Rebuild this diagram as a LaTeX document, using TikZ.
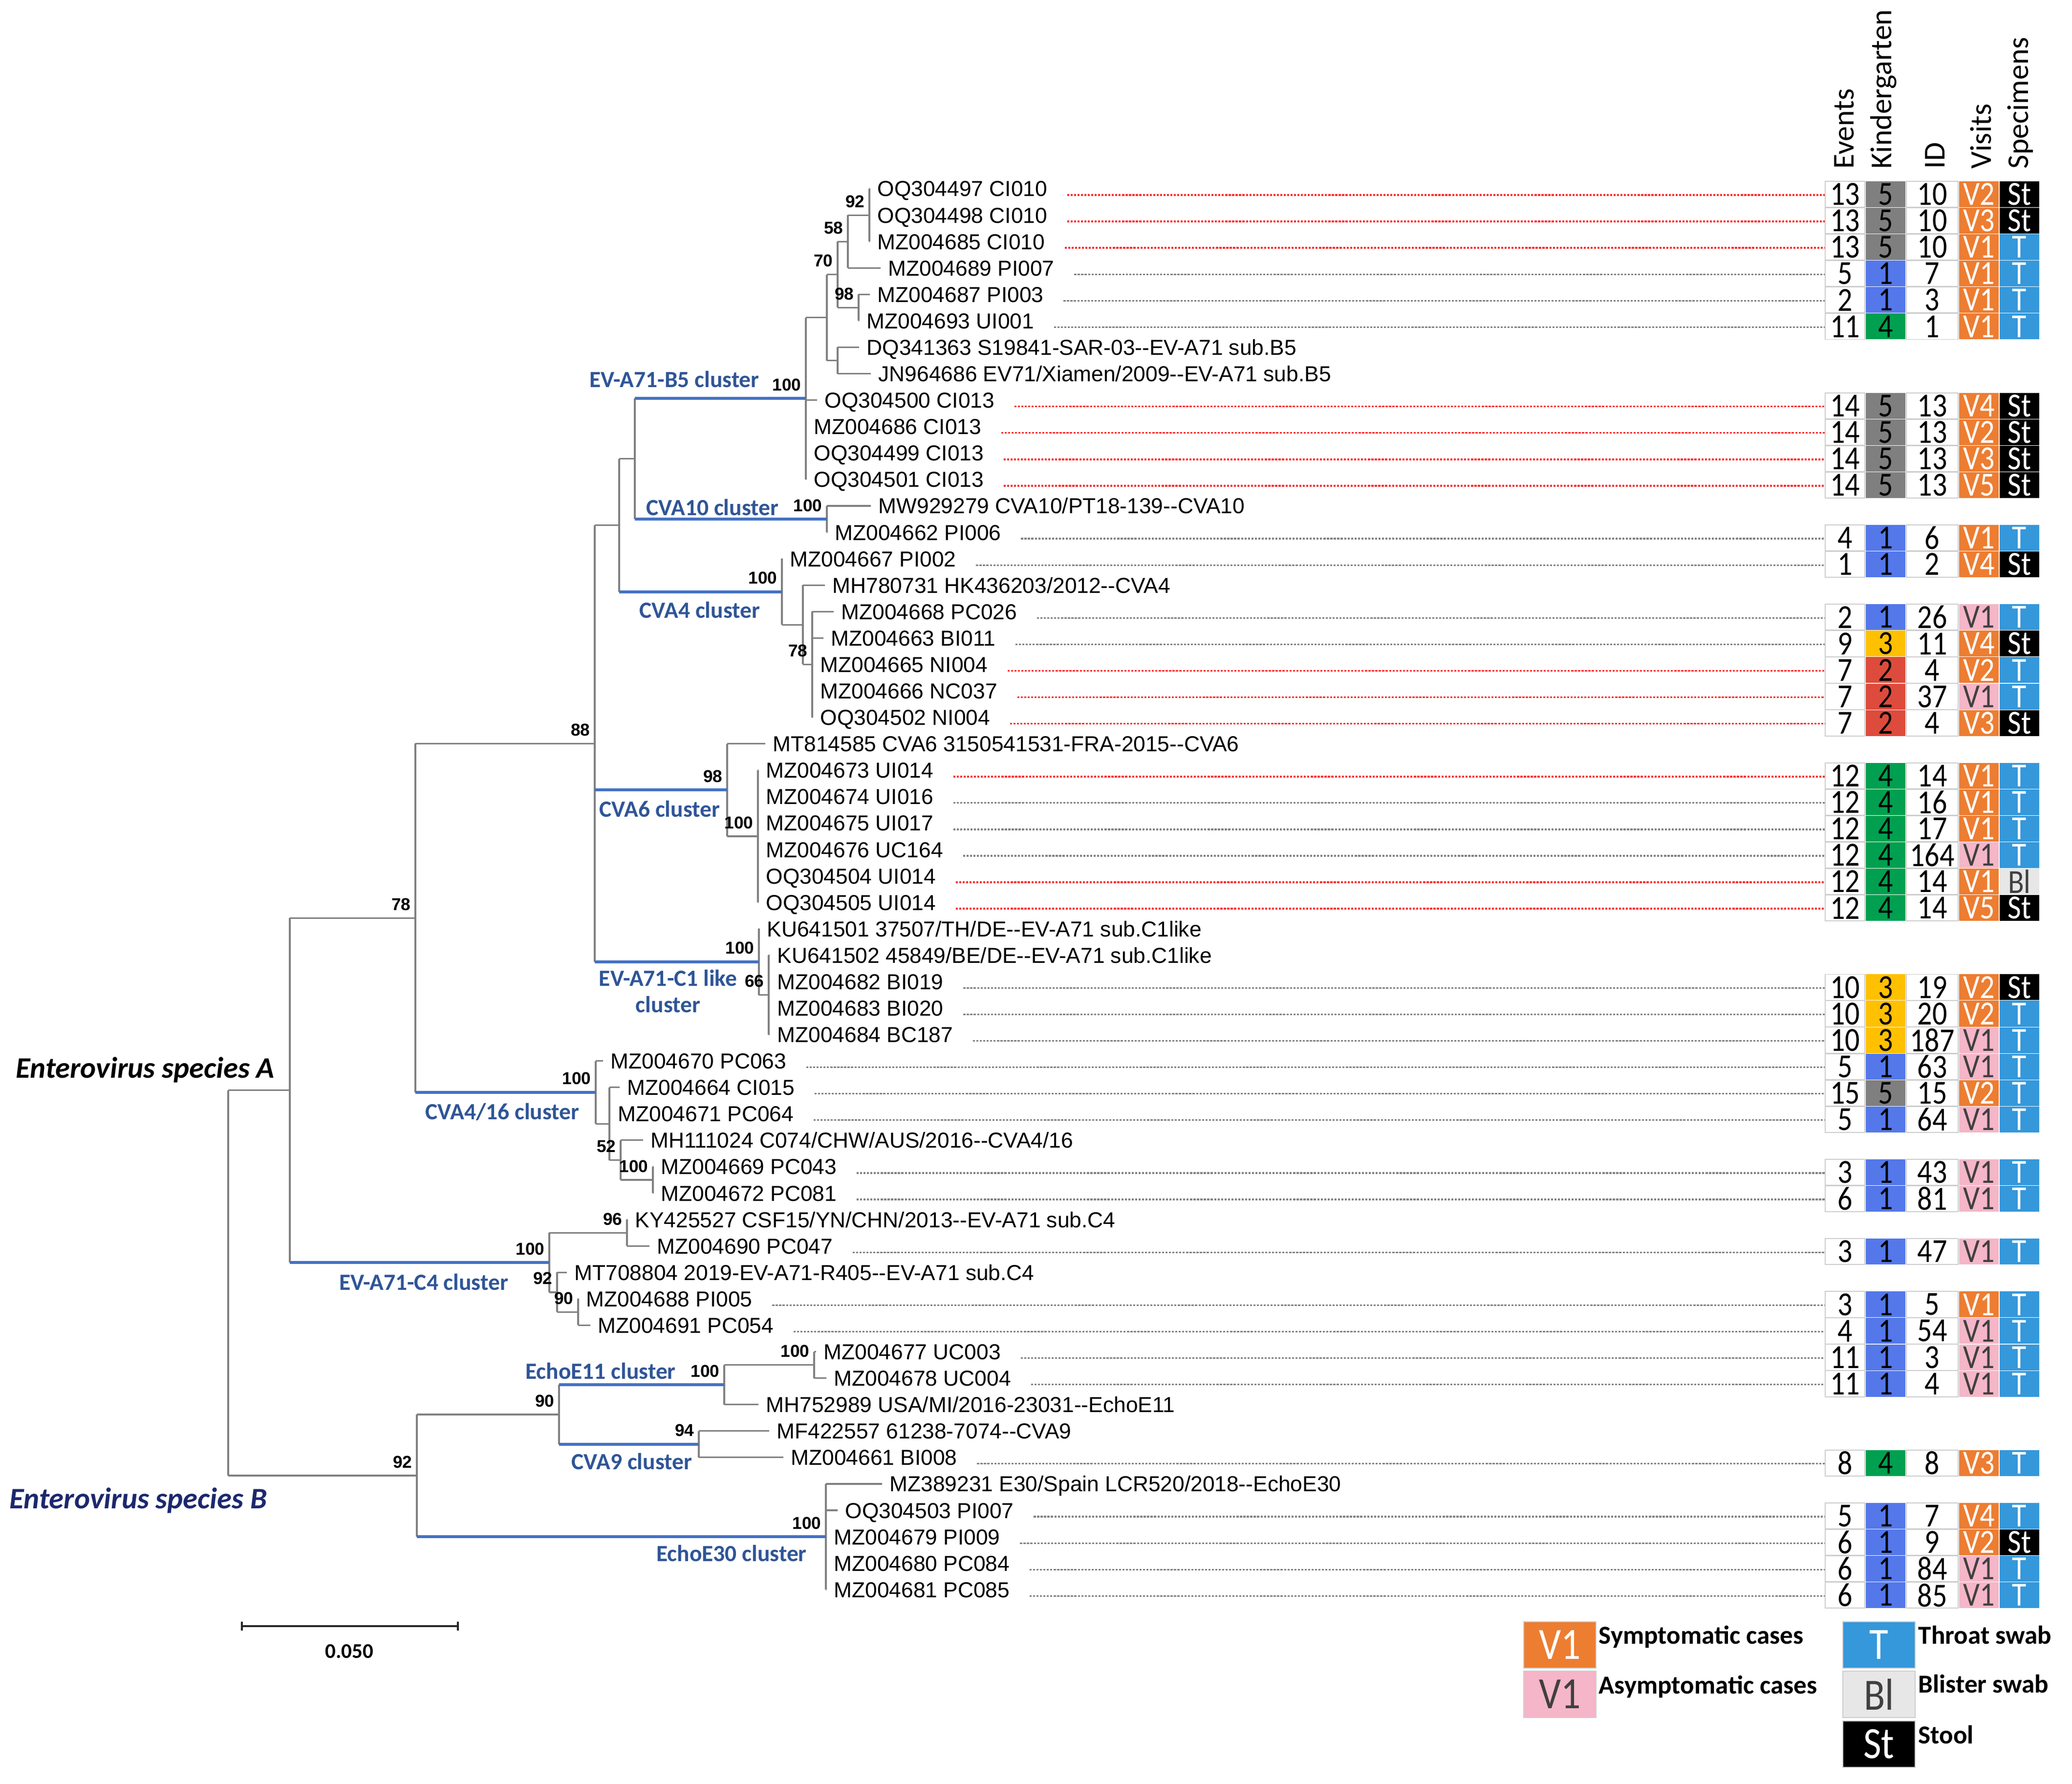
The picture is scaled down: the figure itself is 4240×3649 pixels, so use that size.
\documentclass[tikz,border=0pt]{standalone}
\usepackage{fontspec}
\setmainfont{Liberation Sans}
\newfontfamily\calf{Carlito}
\newfontfamily\tabf{Carlito}[FakeStretch=0.87]
\usetikzlibrary{calc}
\definecolor{treegray}{RGB}{128,128,128}
\definecolor{brblue}{RGB}{68,114,196}
\definecolor{cltext}{RGB}{47,85,151}
\definecolor{spnavy}{RGB}{28,40,110}
\definecolor{kgray}{RGB}{127,127,127}
\definecolor{kblue}{RGB}{84,120,234}
\definecolor{kgreen}{RGB}{0,160,80}
\definecolor{kyellow}{RGB}{255,192,0}
\definecolor{kred}{RGB}{221,75,60}
\definecolor{vorange}{RGB}{237,125,49}
\definecolor{vpink}{RGB}{244,182,200}
\definecolor{sblue}{RGB}{52,152,219}
\definecolor{blgray}{RGB}{231,231,231}
\definecolor{darktxt}{RGB}{64,64,64}
\definecolor{cellline}{RGB}{205,205,205}
\definecolor{dotred}{RGB}{255,40,40}
\definecolor{dotgray}{RGB}{128,128,128}

\newcommand\lf[3]{\coordinate (t#1) at (#2,{386+(#1-1)*54.08});
  \node[leaf] (l#1) at ($(t#1)+(15,16)$) {#3};}
\newcommand\bsl[2]{\node[bs] (b#1) at ($(#1)+(-9,-16)$) {#2};}
\newcommand\trow[9]{%
  \pgfmathsetmacro\rowy{386+(#1-1)*54.08+11.5}%
  \node[cw] (ev#1) at (3775.5,\rowy) {#2};
  \node[cell,#3] (kd#1) at (3858.5,\rowy) {#4};
  \node[cw,minimum width=1.065cm] (id#1) at (3954,\rowy) {#5};
  \node[cell,#6] (vs#1) at (4049.5,\rowy) {#7};
  \node[cell,#8] (sp#1) at (4132.5,\rowy) {#9};
  \coordinate (r#1) at (3734,\rowy+1.5);}
\newcommand\dl[2]{\coordinate (s#1) at ($(l#1.east)+(40,0)$);
  \draw[#2] (s#1 |- r#1) -- (r#1);}

\begin{document}
\begin{tikzpicture}[x=0.01cm,y=-0.01cm,
  br/.style={draw=treegray, line width=0.9pt},
  bb/.style={draw=brblue, line width=1.7pt},
  leaf/.style={anchor=base west, inner sep=0pt, font=\fontsize{12.6}{14}\selectfont},
  bs/.style={anchor=base east, inner sep=0pt, font=\fontsize{10}{12}\selectfont\bfseries},
  cl/.style={inner sep=0pt, text=cltext, align=center, font=\calf\fontsize{13.5}{15.4}\selectfont\bfseries},
  spc/.style={inner sep=0pt, font=\calf\fontsize{17.3}{20}\selectfont\bfseries\itshape},
  hdr/.style={rotate=90, anchor=base west, inner sep=0pt, font=\calf\fontsize{17.6}{20}\selectfont},
  cell/.style={minimum width=0.815cm, minimum height=0.53cm, inner sep=0pt, font=\tabf\fontsize{19.6}{20}\selectfont},
  cw/.style={cell, fill=white, draw=cellline, line width=0.5pt},
  kg/.style={fill=kgray}, kb/.style={fill=kblue}, kgr/.style={fill=kgreen},
  ky/.style={fill=kyellow}, kr/.style={fill=kred},
  vo/.style={fill=vorange, text=white}, vp/.style={fill=vpink, text=darktxt},
  st/.style={fill=black, text=white}, sT/.style={fill=sblue, text=white},
  sB/.style={fill=blgray, text=darktxt},
  reddot/.style={draw=dotred, line width=1pt, dash pattern=on 1.2pt off 0.8pt},
  graydot/.style={draw=dotgray, line width=0.9pt, dash pattern=on 1.2pt off 0.8pt},
  lbox/.style={minimum width=1.48cm, minimum height=0.95cm, inner sep=0pt, draw=cellline, line width=0.6pt, font=\tabf\fontsize{26}{28}\selectfont},
  lgt/.style={anchor=base west, inner sep=0pt, font=\calf\bfseries\fontsize{15.1}{17}\selectfont}
]
\useasboundingbox (0,0) rectangle (4240,3649);

% ---------- leaves ----------
\lf{1}{1780}{OQ304497 CI010}
\lf{2}{1780}{OQ304498 CI010}
\lf{3}{1780}{MZ004685 CI010}
\lf{4}{1802}{MZ004689 PI007}
\lf{5}{1780}{MZ004687 PI003}
\lf{6}{1758}{MZ004693 UI001}
\lf{7}{1758}{DQ341363 S19841-SAR-03-{}-EV-A71 sub.B5}
\lf{8}{1782}{JN964686 EV71/Xiamen/2009-{}-EV-A71 sub.B5}
\lf{9}{1672}{OQ304500 CI013}
\lf{10}{1650}{MZ004686 CI013}
\lf{11}{1650}{OQ304499 CI013}
\lf{12}{1650}{OQ304501 CI013}
\lf{13}{1782}{MW929279 CVA10/PT18-139-{}-CVA10}
\lf{14}{1693}{MZ004662 PI006}
\lf{15}{1601}{MZ004667 PI002}
\lf{16}{1688}{MH780731 HK436203/2012-{}-CVA4}
\lf{17}{1706}{MZ004668 PC026}
\lf{18}{1685}{MZ004663 BI011}
\lf{19}{1663}{MZ004665 NI004}
\lf{20}{1663}{MZ004666 NC037}
\lf{21}{1663}{OQ304502 NI004}
\lf{22}{1566}{MT814585 CVA6 3150541531-FRA-2015-{}-CVA6}
\lf{23}{1552}{MZ004673 UI014}
\lf{24}{1552}{MZ004674 UI016}
\lf{25}{1552}{MZ004675 UI017}
\lf{26}{1552}{MZ004676 UC164}
\lf{27}{1552}{OQ304504 UI014}
\lf{28}{1552}{OQ304505 UI014}
\lf{29}{1554}{KU641501 37507/TH/DE-{}-EV-A71 sub.C1like}
\lf{30}{1575}{KU641502 45849/BE/DE-{}-EV-A71 sub.C1like}
\lf{31}{1575}{MZ004682 BI019}
\lf{32}{1575}{MZ004683 BI020}
\lf{33}{1575}{MZ004684 BC187}
\lf{34}{1234}{MZ004670 PC063}
\lf{35}{1268}{MZ004664 CI015}
\lf{36}{1249}{MZ004671 PC064}
\lf{37}{1316}{MH111024 C074/CHW/AUS/2016-{}-CVA4/16}
\lf{38}{1337}{MZ004669 PC043}
\lf{39}{1337}{MZ004672 PC081}
\lf{40}{1284}{KY425527 CSF15/YN/CHN/2013-{}-EV-A71 sub.C4}
\lf{41}{1329}{MZ004690 PC047}
\lf{42}{1160}{MT708804 2019-EV-A71-R405-{}-EV-A71 sub.C4}
\lf{43}{1184}{MZ004688 PI005}
\lf{44}{1208}{MZ004691 PC054}
\lf{45}{1670}{MZ004677 UC003}
\lf{46}{1691}{MZ004678 UC004}
\lf{47}{1552}{MH752989 USA/MI/2016-23031-{}-EchoE11}
\lf{48}{1574}{MF422557 61238-7074-{}-CVA9}
\lf{49}{1603}{MZ004661 BI008}
\lf{50}{1805}{MZ389231 E30/Spain LCR520/2018-{}-EchoE30}
\lf{51}{1714}{OQ304503 PI007}
\lf{52}{1691}{MZ004679 PI009}
\lf{53}{1691}{MZ004680 PC084}
\lf{54}{1691}{MZ004681 PC085}

% ---------- internal nodes ----------
\coordinate (a92) at (1779,440.1);
\coordinate (a58) at (1735,494.2);
\coordinate (a98) at (1757,629.4);
\coordinate (a70) at (1714,561.8);
\coordinate (aDJ) at (1714,737.6);
\coordinate (aB5a) at (1692,649.7);
\coordinate (aB5) at (1649,815.3);
\coordinate (aC10) at (1692,1062);
\coordinate (aX2) at (1299,938.7);
\coordinate (a78b) at (1662,1359.4);
\coordinate (aC4b) at (1643,1278.3);
\coordinate (aCVA4) at (1600,1210.7);
\coordinate (aX1) at (1267,1074.7);
\coordinate (a100c) at (1551,1711);
\coordinate (aCVA6) at (1488,1616.4);
\coordinate (a66) at (1573,2035.5);
\coordinate (aC1) at (1553,1967.9);
\coordinate (a88) at (1217,1521.3);
\coordinate (a100d) at (1336,2414);
\coordinate (a52) at (1270,2373.5);
\coordinate (a1247) at (1247,2299.1);
\coordinate (aCVA416) at (1219,2234.9);
\coordinate (a78) at (850,1878.1);
\coordinate (a96) at (1283,2522.2);
\coordinate (a90c) at (1183,2684.4);
\coordinate (a92c) at (1140,2643.9);
\coordinate (aC4) at (1124,2583);
\coordinate (aA) at (593,2230.6);
\coordinate (a100e) at (1666,2792.6);
\coordinate (aE11) at (1482,2833.1);
\coordinate (aCVA9) at (1430,2954.8);
\coordinate (a90b) at (1144,2894);
\coordinate (aE30) at (1690,3144);
\coordinate (aB) at (853,3019);
\coordinate (root) at (467,2624.8);

% ---------- gray branches ----------
\draw[br] (a92 |- t1) -- (a92 |- t3);
\foreach \c in {t1,t2,t3} {\draw[br] (a92 |- \c) -- (\c);}
\draw[br] (a58 |- a92) -- (a58 |- t4);
\foreach \c in {a92,t4} {\draw[br] (a58 |- \c) -- (\c);}
\draw[br] (a98 |- t5) -- (a98 |- t6);
\foreach \c in {t5,t6} {\draw[br] (a98 |- \c) -- (\c);}
\draw[br] (a70 |- a58) -- (a70 |- a98);
\foreach \c in {a58,a98} {\draw[br] (a70 |- \c) -- (\c);}
\draw[br] (aDJ |- t7) -- (aDJ |- t8);
\foreach \c in {t7,t8} {\draw[br] (aDJ |- \c) -- (\c);}
\draw[br] (aB5a |- a70) -- (aB5a |- aDJ);
\foreach \c in {a70,aDJ} {\draw[br] (aB5a |- \c) -- (\c);}
\draw[br] (aB5 |- aB5a) -- (aB5 |- t12);
\foreach \c in {aB5a,t9,t10,t11,t12} {\draw[br] (aB5 |- \c) -- (\c);}
\draw[br] (aC10 |- t13) -- (aC10 |- t14);
\foreach \c in {t13,t14} {\draw[br] (aC10 |- \c) -- (\c);}
\draw[br] (aX2 |- aB5) -- (aX2 |- aC10);
\draw[br] (a78b |- t17) -- (a78b |- t21);
\foreach \c in {t17,t18,t19,t20,t21} {\draw[br] (a78b |- \c) -- (\c);}
\draw[br] (aC4b |- t16) -- (aC4b |- a78b);
\foreach \c in {t16,a78b} {\draw[br] (aC4b |- \c) -- (\c);}
\draw[br] (aCVA4 |- t15) -- (aCVA4 |- aC4b);
\foreach \c in {t15,aC4b} {\draw[br] (aCVA4 |- \c) -- (\c);}
\draw[br] (aX1 |- aX2) -- (aX1 |- aCVA4);
\draw[br] (aX1 |- aX2) -- (aX2);
\draw[br] (a100c |- t23) -- (a100c |- t28);
\foreach \c in {t23,t24,t25,t26,t27,t28} {\draw[br] (a100c |- \c) -- (\c);}
\draw[br] (aCVA6 |- t22) -- (aCVA6 |- a100c);
\foreach \c in {t22,a100c} {\draw[br] (aCVA6 |- \c) -- (\c);}
\draw[br] (a66 |- t30) -- (a66 |- t33);
\foreach \c in {t30,t31,t32,t33} {\draw[br] (a66 |- \c) -- (\c);}
\draw[br] (aC1 |- t29) -- (aC1 |- a66);
\foreach \c in {t29,a66} {\draw[br] (aC1 |- \c) -- (\c);}
\draw[br] (a88 |- aX1) -- (a88 |- aC1);
\draw[br] (a88 |- aX1) -- (aX1);
\draw[br] (a100d |- t38) -- (a100d |- t39);
\foreach \c in {t38,t39} {\draw[br] (a100d |- \c) -- (\c);}
\draw[br] (a52 |- t37) -- (a52 |- a100d);
\foreach \c in {t37,a100d} {\draw[br] (a52 |- \c) -- (\c);}
\draw[br] (a1247 |- t35) -- (a1247 |- a52);
\foreach \c in {t35,t36,a52} {\draw[br] (a1247 |- \c) -- (\c);}
\draw[br] (aCVA416 |- t34) -- (aCVA416 |- a1247);
\foreach \c in {t34,a1247} {\draw[br] (aCVA416 |- \c) -- (\c);}
\draw[br] (a78 |- a88) -- (a78 |- aCVA416);
\draw[br] (a78 |- a88) -- (a88);
\draw[br] (a96 |- t40) -- (a96 |- t41);
\foreach \c in {t40,t41} {\draw[br] (a96 |- \c) -- (\c);}
\draw[br] (a90c |- t43) -- (a90c |- t44);
\foreach \c in {t43,t44} {\draw[br] (a90c |- \c) -- (\c);}
\draw[br] (a92c |- t42) -- (a92c |- a90c);
\foreach \c in {t42,a90c} {\draw[br] (a92c |- \c) -- (\c);}
\draw[br] (aC4 |- a96) -- (aC4 |- a92c);
\foreach \c in {a96,a92c} {\draw[br] (aC4 |- \c) -- (\c);}
\draw[br] (aA |- a78) -- (aA |- aC4);
\draw[br] (aA |- a78) -- (a78);
\draw[br] (a100e |- t45) -- (a100e |- t46);
\foreach \c in {t45,t46} {\draw[br] (a100e |- \c) -- (\c);}
\draw[br] (aE11 |- a100e) -- (aE11 |- t47);
\foreach \c in {a100e,t47} {\draw[br] (aE11 |- \c) -- (\c);}
\draw[br] (aCVA9 |- t48) -- (aCVA9 |- t49);
\foreach \c in {t48,t49} {\draw[br] (aCVA9 |- \c) -- (\c);}
\draw[br] (a90b |- aE11) -- (a90b |- aCVA9);
\draw[br] (aE30 |- t50) -- (aE30 |- t54);
\foreach \c in {t50,t51,t52,t53,t54} {\draw[br] (aE30 |- \c) -- (\c);}
\draw[br] (aB |- a90b) -- (aB |- aE30);
\draw[br] (aB |- a90b) -- (a90b);
\draw[br] (root |- aA) -- (root |- aB);
\foreach \c in {aA,aB} {\draw[br] (root |- \c) -- (\c);}

% ---------- blue cluster stems ----------
\draw[bb] (aX2 |- aB5) -- (aB5);
\draw[bb] (aX2 |- aC10) -- (aC10);
\draw[bb] (aX1 |- aCVA4) -- (aCVA4);
\draw[bb] (a88 |- aCVA6) -- (aCVA6);
\draw[bb] (a88 |- aC1) -- (aC1);
\draw[bb] (a78 |- aCVA416) -- (aCVA416);
\draw[bb] (aA |- aC4) -- (aC4);
\draw[bb] (a90b |- aE11) -- (aE11);
\draw[bb] (a90b |- aCVA9) -- (aCVA9);
\draw[bb] (aB |- aE30) -- (aE30);

% ---------- bootstrap values ----------
\bsl{a92}{92} \bsl{a58}{58} \bsl{a70}{70} \bsl{a98}{98}
\bsl{aB5}{100} \bsl{aC10}{100} \bsl{aCVA4}{100} \bsl{a78b}{78}
\bsl{a88}{88} \bsl{aCVA6}{98} \bsl{a100c}{100} \bsl{aC1}{100}
\bsl{a66}{66} \bsl{a78}{78} \bsl{aCVA416}{100} \bsl{a52}{52}
\bsl{a100d}{100} \bsl{a96}{96} \bsl{aC4}{100} \bsl{a92c}{92}
\bsl{a90c}{90} \bsl{a100e}{100} \bsl{aE11}{100} \bsl{a90b}{90}
\bsl{aCVA9}{94} \bsl{aB}{92} \bsl{aE30}{100}

% ---------- cluster labels ----------
\node[cl] (c1) at (1380,776) {EV-A71-B5 cluster};
\node[cl] (c2) at (1458,1038) {CVA10 cluster};
\node[cl] (c3) at (1432,1248) {CVA4 cluster};
\node[cl] (c4) at (1350,1655) {CVA6 cluster};
\node[cl] (c5) at (1367,2028) {EV-A71-C1 like\\cluster};
\node[cl] (c6) at (1028,2275) {CVA4/16 cluster};
\node[cl] (c7) at (867,2623) {EV-A71-C4 cluster};
\node[cl] (c8) at (1229,2805) {EchoE11 cluster};
\node[cl] (c9) at (1293,2990) {CVA9 cluster};
\node[cl] (c10) at (1497,3178) {EchoE30 cluster};

\node[spc] (spA) at (297,2189) {Enterovirus species A};
\node[spc, text=spnavy] (spB) at (283,3070) {Enterovirus species B};

% ---------- scale bar ----------
\coordinate (sb1) at (495,3327);
\coordinate (sb2) at (937,3327);
\draw[line width=1.1pt, draw=black!85] (sb1) -- (sb2);
\draw[line width=1.1pt, draw=black!85] ($(sb1)+(0,-9)$) -- ($(sb1)+(0,9)$);
\draw[line width=1.1pt, draw=black!85] ($(sb2)+(0,-9)$) -- ($(sb2)+(0,9)$);
\node[inner sep=0pt, font=\calf\bfseries\fontsize{12.2}{14}\selectfont] (sbl) at (715,3379) {0.050};

% ---------- headers ----------
\node[hdr] (h1) at (3793,346) {Events};
\node[hdr] (h2) at (3870,346) {Kindergarten};
\node[hdr] (h3) at (3979,346) {ID};
\node[hdr] (h4) at (4074,346) {Visits};
\node[hdr] (h5) at (4150,346) {Specimens};

% ---------- table ----------
\trow{1}{13}{kg}{5}{10}{vo}{V2}{st}{St}
\trow{2}{13}{kg}{5}{10}{vo}{V3}{st}{St}
\trow{3}{13}{kg}{5}{10}{vo}{V1}{sT}{T}
\trow{4}{5}{kb}{1}{7}{vo}{V1}{sT}{T}
\trow{5}{2}{kb}{1}{3}{vo}{V1}{sT}{T}
\trow{6}{11}{kgr}{4}{1}{vo}{V1}{sT}{T}
\trow{9}{14}{kg}{5}{13}{vo}{V4}{st}{St}
\trow{10}{14}{kg}{5}{13}{vo}{V2}{st}{St}
\trow{11}{14}{kg}{5}{13}{vo}{V3}{st}{St}
\trow{12}{14}{kg}{5}{13}{vo}{V5}{st}{St}
\trow{14}{4}{kb}{1}{6}{vo}{V1}{sT}{T}
\trow{15}{1}{kb}{1}{2}{vo}{V4}{st}{St}
\trow{17}{2}{kb}{1}{26}{vp}{V1}{sT}{T}
\trow{18}{9}{ky}{3}{11}{vo}{V4}{st}{St}
\trow{19}{7}{kr}{2}{4}{vo}{V2}{sT}{T}
\trow{20}{7}{kr}{2}{37}{vp}{V1}{sT}{T}
\trow{21}{7}{kr}{2}{4}{vo}{V3}{st}{St}
\trow{23}{12}{kgr}{4}{14}{vo}{V1}{sT}{T}
\trow{24}{12}{kgr}{4}{16}{vo}{V1}{sT}{T}
\trow{25}{12}{kgr}{4}{17}{vo}{V1}{sT}{T}
\trow{26}{12}{kgr}{4}{164}{vp}{V1}{sT}{T}
\trow{27}{12}{kgr}{4}{14}{vo}{V1}{sB}{Bl}
\trow{28}{12}{kgr}{4}{14}{vo}{V5}{st}{St}
\trow{31}{10}{ky}{3}{19}{vo}{V2}{st}{St}
\trow{32}{10}{ky}{3}{20}{vo}{V2}{sT}{T}
\trow{33}{10}{ky}{3}{187}{vp}{V1}{sT}{T}
\trow{34}{5}{kb}{1}{63}{vp}{V1}{sT}{T}
\trow{35}{15}{kg}{5}{15}{vo}{V2}{sT}{T}
\trow{36}{5}{kb}{1}{64}{vp}{V1}{sT}{T}
\trow{38}{3}{kb}{1}{43}{vp}{V1}{sT}{T}
\trow{39}{6}{kb}{1}{81}{vp}{V1}{sT}{T}
\trow{41}{3}{kb}{1}{47}{vp}{V1}{sT}{T}
\trow{43}{3}{kb}{1}{5}{vo}{V1}{sT}{T}
\trow{44}{4}{kb}{1}{54}{vp}{V1}{sT}{T}
\trow{45}{11}{kb}{1}{3}{vp}{V1}{sT}{T}
\trow{46}{11}{kb}{1}{4}{vp}{V1}{sT}{T}
\trow{49}{8}{kgr}{4}{8}{vo}{V3}{sT}{T}
\trow{51}{5}{kb}{1}{7}{vo}{V4}{sT}{T}
\trow{52}{6}{kb}{1}{9}{vo}{V2}{st}{St}
\trow{53}{6}{kb}{1}{84}{vp}{V1}{sT}{T}
\trow{54}{6}{kb}{1}{85}{vp}{V1}{sT}{T}

% ---------- dotted guide lines ----------
\foreach \i in {1,2,3,9,10,11,12,19,20,21,23,27,28} {\dl{\i}{reddot}}
\foreach \i in {4,5,6,14,15,17,18,24,25,26,31,32,33,34,35,36,38,39,41,43,44,45,46,49,51,52,53,54} {\dl{\i}{graydot}}

% ---------- legend ----------
\node[lbox, fill=vorange, text=white] (lg1) at (3192,3365.5) {V1};
\node[lbox, fill=vpink, text=darktxt] (lg2) at (3192,3466.5) {V1};
\node[lbox, fill=sblue, text=white] (lg3) at (3845,3365.5) {T};
\node[lbox, fill=blgray, text=darktxt] (lg4) at (3845,3466.5) {Bl};
\node[lbox, fill=black, text=white] (lg5) at (3845,3568.5) {St};
\node[lgt] (lt1) at (3271,3363) {Symptomatic cases};
\node[lgt] (lt2) at (3271,3465) {Asymptomatic cases};
\node[lgt] (lt3) at (3925,3363) {Throat swab};
\node[lgt] (lt4) at (3925,3463) {Blister swab};
\node[lgt] (lt5) at (3925,3567) {Stool};
\end{tikzpicture}
\end{document}
